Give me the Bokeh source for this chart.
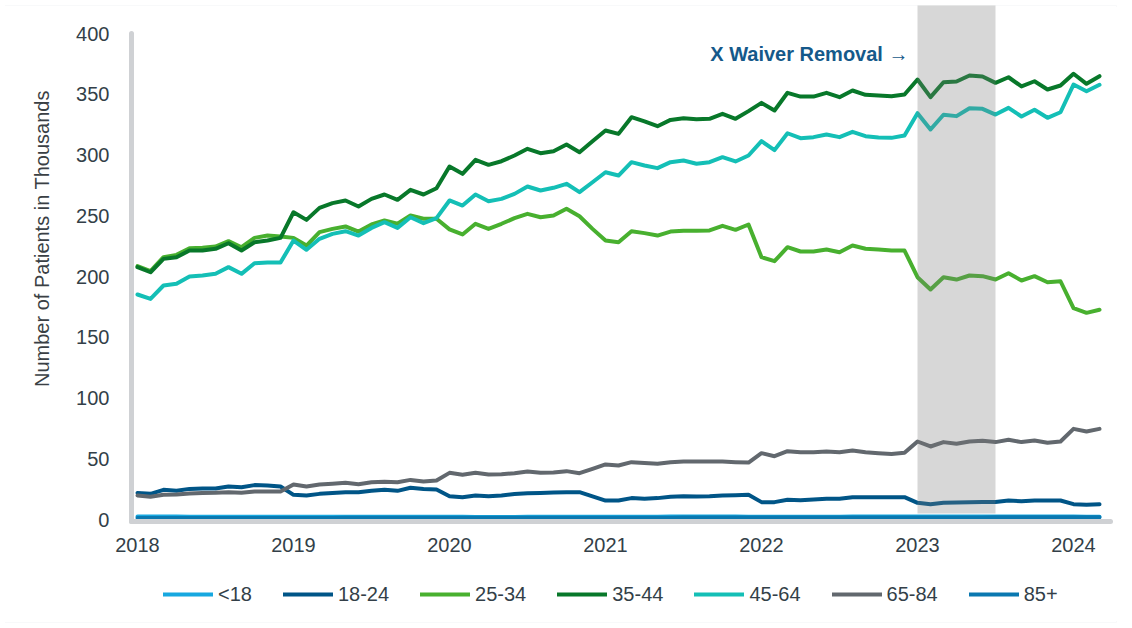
from bokeh.plotting import figure
from bokeh.models import Range1d, FixedTicker, Legend, LegendItem, LinearAxis
from bokeh.embed import file_html
from bokeh.resources import INLINE
from bokeh.core.properties import value

# ---------------- data (thousands of patients, monthly Jan 2018 - Mar 2024) ----------------
months = [f"{2018 + i // 12}-{i % 12 + 1:02d}" for i in range(75)]

age_lt18 = [2.4, 2.4, 2.4, 2.4, 2.3, 2.3, 2.3, 2.3, 2.3, 2.3, 2.2, 2.2,
            2.2, 2.2, 2.2, 2.2, 2.2, 2.2, 2.3, 2.3, 2.3, 2.3, 2.2, 2.2,
            2.2, 2.2, 2.1, 2.1, 2.1, 2.1, 2.2, 2.2, 2.2, 2.2, 2.2, 2.2,
            2.2, 2.3, 2.3, 2.3, 2.3, 2.4, 2.4, 2.5, 2.4, 2.4, 2.4, 2.3,
            2.3, 2.3, 2.3, 2.3, 2.3, 2.3, 2.3, 2.4, 2.4, 2.4, 2.4, 2.4,
            2.4, 2.4, 2.4, 2.4, 2.4, 2.5, 2.5, 2.5, 2.5, 2.5, 2.5, 2.4,
            2.4, 2.3, 2.3]

age_18_24 = [21.9, 21.1, 24.4, 23.6, 25.2, 25.5, 25.5, 27.2, 26.6, 28.3, 28.0, 27.2,
             20.3, 19.8, 21.1, 21.9, 22.5, 22.5, 23.6, 24.4, 23.6, 26.1, 25.2, 24.7,
             19.2, 18.4, 19.8, 19.2, 19.8, 20.9, 21.7, 21.9, 22.2, 22.5, 22.5, 19.0,
             15.6, 15.6, 17.6, 17.0, 17.6, 18.7, 19.2, 19.0, 19.2, 19.8, 20.0, 20.3,
             14.3, 14.3, 16.2, 15.9, 16.5, 17.0, 17.0, 18.4, 18.4, 18.4, 18.4, 18.4,
             13.7, 12.6, 13.7, 14.0, 14.3, 14.5, 14.5, 15.6, 15.1, 15.6, 15.6, 15.6,
             12.6, 12.1, 12.6]

age_25_34 = [208.5, 204.4, 215.9, 217.8, 223.3, 223.6, 224.7, 229.1, 224.1, 231.8, 233.7, 232.9,
             231.8, 225.5, 236.5, 239.2, 241.2, 237.0, 242.8, 246.1, 243.4, 250.2, 247.5, 247.5,
             238.8, 234.6, 243.4, 239.2, 243.4, 248.0, 251.6, 248.8, 250.2, 255.7, 249.6, 239.2,
             229.6, 228.2, 237.3, 235.7, 233.7, 237.0, 237.6, 237.6, 237.9, 241.7, 238.4, 242.8,
             215.9, 212.6, 224.1, 220.6, 220.6, 222.2, 220.0, 225.5, 222.8, 222.2, 221.4, 221.4,
             199.4, 189.3, 199.4, 197.5, 200.8, 200.3, 197.5, 202.7, 196.7, 200.3, 195.3, 196.1,
             173.9, 170.1, 172.6]

age_35_44 = [207.7, 203.5, 214.5, 215.9, 221.4, 221.4, 222.8, 227.4, 221.4, 228.2, 229.6, 231.8,
             252.9, 246.6, 256.5, 260.4, 262.6, 257.6, 263.9, 267.5, 263.1, 271.3, 267.5, 272.7,
             290.5, 284.5, 296.0, 291.9, 294.9, 299.6, 305.1, 301.5, 303.1, 308.6, 302.3, 311.4,
             320.2, 317.4, 331.1, 327.6, 323.7, 328.9, 330.3, 329.5, 329.8, 333.9, 329.8, 336.1,
             342.9, 336.6, 351.2, 348.1, 348.1, 351.2, 347.6, 353.1, 349.5, 349.0, 348.4, 349.8,
             362.1, 347.6, 359.9, 360.5, 365.4, 364.6, 359.4, 364.0, 356.4, 360.7, 353.9, 357.2,
             366.9, 358.6, 364.9]

age_45_64 = [185.2, 181.6, 192.6, 194.0, 200.0, 200.8, 202.2, 207.7, 202.2, 210.9, 211.5, 211.5,
             229.6, 222.0, 231.0, 235.1, 237.3, 233.7, 240.0, 244.7, 240.0, 248.8, 243.9, 248.0,
             262.6, 258.4, 267.5, 262.0, 263.9, 268.0, 274.1, 270.8, 273.0, 276.3, 269.4, 277.6,
             285.8, 283.1, 294.1, 291.4, 289.2, 294.1, 295.5, 292.8, 294.1, 298.2, 294.7, 299.6,
             311.4, 304.0, 317.9, 313.8, 314.7, 316.9, 314.7, 319.1, 315.5, 314.4, 314.1, 316.0,
             334.4, 321.0, 333.1, 332.0, 338.5, 338.0, 333.3, 338.8, 331.7, 337.2, 330.6, 335.2,
             358.0, 352.5, 357.8]

age_65_84 = [19.8, 18.7, 20.3, 20.6, 21.4, 21.9, 22.0, 22.5, 22.0, 23.0, 23.0, 23.0,
             28.8, 27.2, 28.8, 29.4, 30.2, 29.1, 30.7, 31.0, 30.7, 32.6, 31.3, 32.1,
             38.4, 36.8, 38.4, 37.1, 37.3, 38.1, 39.5, 38.4, 38.7, 39.8, 38.1, 41.7,
             45.3, 44.4, 47.2, 46.6, 45.8, 47.2, 47.7, 47.7, 47.7, 47.7, 47.2, 46.9,
             54.6, 52.1, 56.2, 55.4, 55.4, 55.9, 55.4, 56.8, 55.4, 54.6, 54.0, 54.9,
             64.2, 60.1, 63.7, 62.3, 64.2, 64.8, 63.7, 65.6, 63.7, 65.0, 63.2, 64.2,
             74.6, 72.4, 74.6]

age_85p = [1.2, 1.2, 1.2, 1.2, 1.2, 1.2, 1.3, 1.3, 1.3, 1.3, 1.3, 1.3,
           1.3, 1.3, 1.3, 1.3, 1.4, 1.4, 1.4, 1.4, 1.4, 1.4, 1.4, 1.4,
           1.4, 1.4, 1.4, 1.4, 1.4, 1.4, 1.5, 1.5, 1.5, 1.5, 1.5, 1.5,
           1.5, 1.5, 1.5, 1.5, 1.5, 1.5, 1.6, 1.6, 1.6, 1.6, 1.6, 1.6,
           1.6, 1.6, 1.6, 1.6, 1.6, 1.6, 1.7, 1.7, 1.7, 1.7, 1.7, 1.7,
           1.7, 1.7, 1.7, 1.7, 1.7, 1.7, 1.8, 1.8, 1.8, 1.8, 1.8, 1.8,
           1.8, 1.8, 1.8]

series_names = ["<18", "18-24", "25-34", "35-44", "45-64", "65-84", "85+"]
series_values = [age_lt18, age_18_24, age_25_34, age_35_44, age_45_64, age_65_84, age_85p]
series_colors = ["#17a8e0", "#005587", "#48b02f", "#08782a", "#14bfb6", "#62686e", "#0a78b0"]

year_ticks = [2018, 2019, 2020, 2021, 2022, 2023, 2024]
value_ticks = [0, 50, 100, 150, 200, 250, 300, 350, 400]

band_start, band_end = 2023.0, 2023.5          # X waiver removal period
annotation_text = "X Waiver Removal \u2192"
y_title = "Number of Patients in Thousands"

# decimal year for each month
x = [int(m[:4]) + (int(m[5:]) - 1) / 12 for m in months]

# ---------------- figure ----------------
FONT = "Liberation Sans"
TXT = "#333f48"
AXIS_GRAY = "#cfd1d4"

x_lo, x_hi = 2017.1218, 2024.2756
y_lo, y_hi = -84.77, 423.05
x_axis_at = -1.646        # value where the horizontal axis bar sits
y_axis_at = 2017.9615     # year where the vertical axis bar sits

p = figure(frame_width=1116, frame_height=617,
           x_range=Range1d(x_lo, x_hi), y_range=Range1d(y_lo, y_hi),
           x_axis_location=None, y_axis_location=None,
           output_backend="svg", toolbar_location=None, title=None,
           min_border_left=0, min_border_right=16, min_border_top=5, min_border_bottom=6)
p.outline_line_color = None
p.grid.visible = False
p.background_fill_color = "white"
p.border_fill_color = "white"
p.styles = {"outline": "2px solid #e3e6ea", "outline-offset": "-7px"}

xaxis = LinearAxis(fixed_location=x_axis_at)
yaxis = LinearAxis(fixed_location=y_axis_at)
p.add_layout(xaxis, "below")
p.add_layout(yaxis, "left")

# axes styling: thick rounded gray axis bars
for ax in (xaxis, yaxis):
    ax.axis_line_color = AXIS_GRAY
    ax.axis_line_width = 5
    ax.axis_line_cap = "round"
    ax.major_tick_line_color = None
    ax.minor_tick_line_color = None
    ax.major_tick_out = 0
    ax.major_tick_in = 0
    ax.major_label_text_font = FONT
    ax.major_label_text_font_size = "20px"
    ax.major_label_text_color = TXT

yaxis.bounds = (x_axis_at, 400)
yaxis.ticker = FixedTicker(ticks=value_ticks)
yaxis.major_label_standoff = 22
yaxis.axis_label = "\u00a0" * 14 + y_title
yaxis.axis_label_text_font = FONT
yaxis.axis_label_text_font_size = "20px"
yaxis.axis_label_text_font_style = "normal"
yaxis.axis_label_text_color = "#3a3f44"
yaxis.axis_label_standoff = 20

xaxis.bounds = (y_axis_at, 2024.237)
xaxis.ticker = FixedTicker(ticks=year_ticks)
xaxis.major_label_overrides = {t: str(t) for t in year_ticks}
xaxis.major_label_standoff = 16

# series lines
renderers = []
for name, vals, col in zip(series_names, series_values, series_colors):
    r = p.line(x, vals, line_color=col, line_width=4, line_join="round", line_cap="round")
    renderers.append(r)

# shaded period drawn over lines
p.quad(left=[band_start], right=[band_end], bottom=[5], top=[y_hi + 5],
       fill_color="#7b7b7b", fill_alpha=0.3, line_color=None)

# annotation
p.text(x=[2022.942], y=[383.5], text=[annotation_text], text_font=value(FONT),
       text_font_style="bold", text_font_size="20px", text_color="#15598a",
       text_align="right", text_baseline="middle")

legend = Legend(items=[LegendItem(label=n, renderers=[r]) for n, r in zip(series_names, renderers)],
                orientation="horizontal", location=(163, 16), padding=0, margin=0,
                spacing=31, glyph_width=50, glyph_height=24, label_height=24, label_standoff=5,
                label_text_font=FONT, label_text_font_size="20px", label_text_color=TXT,
                background_fill_alpha=0, border_line_color=None)
p.add_layout(legend)

open("out.html", "w").write(file_html(p, INLINE))
